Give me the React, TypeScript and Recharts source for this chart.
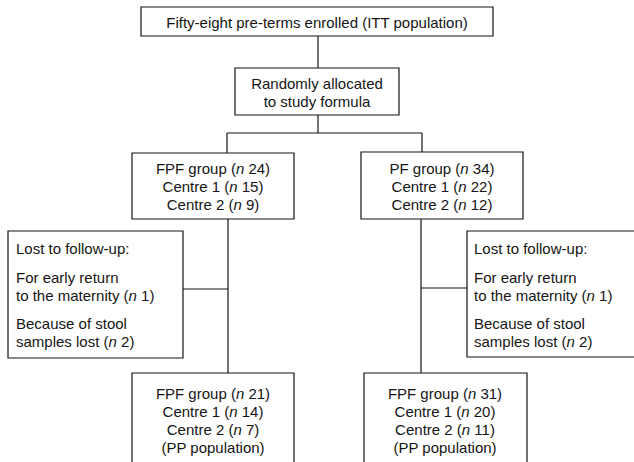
import React from "react";
import {
  ReferenceArea,
  ReferenceLine,
  Scatter,
  ScatterChart,
  XAxis,
  YAxis,
} from "recharts";

// Flow of participants (text + counts)
const ENROLLED = "Fifty-eight pre-terms enrolled (ITT population)";
const ALLOCATION = ["Randomly allocated", "to study formula"];
const ALLOCATED_LABELS_FPF = ["FPF group", "Centre 1", "Centre 2"];
const ALLOCATED_LABELS_PF = ["PF group", "Centre 1", "Centre 2"];
const ALLOCATED_FPF = [24, 15, 9];
const ALLOCATED_PF = [34, 22, 12];
const LOST_TITLE = "Lost to follow-up:";
const LOST_REASONS = [
  ["For early return", "to the maternity"],
  ["Because of stool", "samples lost"],
];
const LOST_FPF = [1, 2];
const LOST_PF = [1, 2];
const ANALYSED_LABELS = ["FPF group", "Centre 1", "Centre 2"];
const ANALYSED_FPF = [21, 14, 7];
const ANALYSED_PF = [31, 20, 11];
const PP_NOTE = "(PP population)";

const W = 634;
const H = 462;
const INK = "#151515";
const FONT = '"Liberation Sans", Arial, sans-serif';

type Part = { t: string; i?: boolean };
type TextItem = { x: number; y: number; anchor: "start" | "middle"; parts: Part[] };

const plain = (t: string): Part[] => [{ t }];
const counted = (label: string, n: number): Part[] => [
  { t: label + " (" },
  { t: "n", i: true },
  { t: " " + n + ")" },
];

// box frames, in chart units (same as pixels here)
const BOXES = [
  { x1: 141, x2: 493, y1: 7, y2: 36 },
  { x1: 235, x2: 399, y1: 68, y2: 115 },
  { x1: 132, x2: 294, y1: 153, y2: 219 },
  { x1: 361, x2: 523, y1: 152, y2: 219 },
  { x1: 8, x2: 183, y1: 231, y2: 358 },
  { x1: 467, x2: 660, y1: 231, y2: 357 },
  { x1: 132, x2: 294, y1: 373, y2: 480 },
  { x1: 364, x2: 527, y1: 373, y2: 480 },
];

const LINKS: [number, number, number, number][] = [
  [318, 36, 318, 68],
  [318, 115, 318, 133],
  [227, 133, 422, 133],
  [227, 133, 227, 153],
  [422, 133, 422, 152],
  [228, 219, 228, 373],
  [421, 219, 421, 373],
  [183, 289, 228, 289],
  [421, 288, 467, 288],
];

function stack(x: number, y: number, anchor: "start" | "middle", lines: Part[][], gap = 18): TextItem[] {
  return lines.map((parts, k) => ({ x, y: y + k * gap, anchor, parts }));
}

function lostLines(x: number, counts: number[]): TextItem[] {
  const out: TextItem[] = [{ x, y: 248, anchor: "start", parts: plain(LOST_TITLE) }];
  LOST_REASONS.forEach((r, k) => {
    const y0 = k === 0 ? 277 : 323;
    out.push({ x, y: y0, anchor: "start", parts: plain(r[0]) });
    out.push({ x, y: y0 + 18, anchor: "start", parts: counted(r[1], counts[k]) });
  });
  return out;
}

const TEXTS: TextItem[] = [
  ...stack(317, 22, "middle", [plain(ENROLLED)]),
  ...stack(317, 83, "middle", ALLOCATION.map(plain), 18),
  ...stack(213, 168, "middle", ALLOCATED_LABELS_FPF.map((l, k) => counted(l, ALLOCATED_FPF[k]))),
  ...stack(442, 168, "middle", ALLOCATED_LABELS_PF.map((l, k) => counted(l, ALLOCATED_PF[k]))),
  ...lostLines(16, LOST_FPF),
  ...lostLines(474, LOST_PF),
  ...stack(213, 393, "middle", [...ANALYSED_LABELS.map((l, k) => counted(l, ANALYSED_FPF[k])), plain(PP_NOTE)]),
  ...stack(445, 393, "middle", [...ANALYSED_LABELS.map((l, k) => counted(l, ANALYSED_PF[k])), plain(PP_NOTE)]),
];

function Label(props: any) {
  const { cx, cy, payload } = props;
  return (
    <text
      x={cx}
      y={cy}
      textAnchor={payload.anchor}
      dominantBaseline="central"
      fontFamily={FONT}
      fontSize={15}
      fill={INK}
    >
      {payload.parts.map((p: Part, k: number) => (
        <tspan key={k} fontStyle={p.i ? "italic" : "normal"}>
          {p.t}
        </tspan>
      ))}
    </text>
  );
}

export default function App() {
  return (
    <div style={{ position: "absolute", left: 0, top: 0, background: "#fff" }}>
      <ScatterChart width={W} height={H} margin={{ top: 0, right: 0, bottom: 0, left: 0 }}>
        <XAxis type="number" dataKey="x" domain={[0, W]} hide />
        <YAxis type="number" dataKey="y" domain={[0, H]} reversed hide />
        {BOXES.map((b, k) => (
          <ReferenceArea
            key={"b" + k}
            {...b}
            fill="none"
            stroke={INK}
            strokeWidth={1.2}
            ifOverflow="visible"
          />
        ))}
        {LINKS.map(([x1, y1, x2, y2], k) => (
          <ReferenceLine
            key={"l" + k}
            segment={[{ x: x1, y: y1 }, { x: x2, y: y2 }]}
            stroke={INK}
            strokeWidth={1.2}
            ifOverflow="visible"
          />
        ))}
        <Scatter data={TEXTS} shape={<Label />} isAnimationActive={false} />
      </ScatterChart>
    </div>
  );
}
